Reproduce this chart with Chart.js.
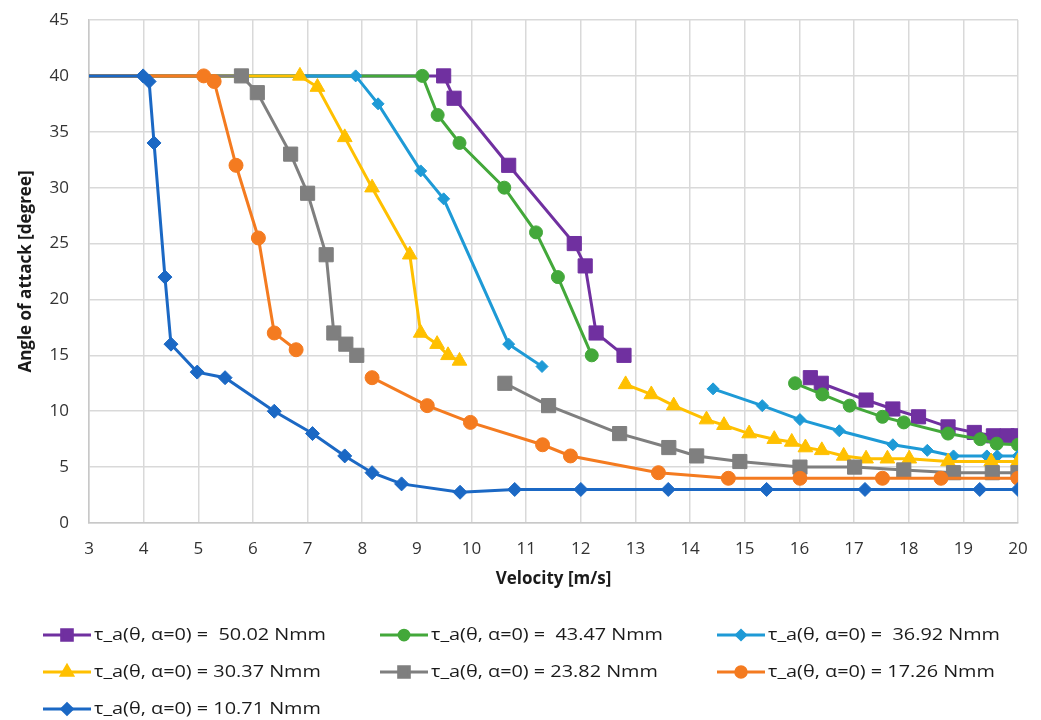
<!DOCTYPE html>
<html>
<head>
<meta charset="utf-8">
<script src="https://cdn.jsdelivr.net/npm/chart.js@4.4.1/dist/chart.umd.min.js"></script>
<style>
  html, body { margin: 0; padding: 0; background: #fff; }
  #wrap { width: 1041px; height: 720px; }
</style>
</head>
<body>
<div id="wrap"><canvas id="angleChart" width="1041" height="720"></canvas></div>
<script>
// velocity [m/s] / angle of attack [degree]; null splits a curve into two branches
const v50 = [3, 9.49, 9.68, 10.68, 11.88, 12.08, 12.28, 12.79, null, 16.2, 16.4, 17.22, 17.71, 18.18, 18.72, 19.2, 19.55, 19.8, 20];
const a50 = [40, 40, 38, 32, 25, 23, 17, 15, null, 13, 12.5, 11, 10.2, 9.5, 8.6, 8.1, 7.8, 7.8, 7.8];

const v43 = [3, 9.1, 9.38, 9.78, 10.6, 11.18, 11.58, 12.2, null, 15.92, 16.42, 16.92, 17.52, 17.91, 18.72, 19.31, 19.61, 20];
const a43 = [40, 40, 36.5, 34, 30, 26, 22, 15, null, 12.5, 11.5, 10.5, 9.5, 9, 8, 7.5, 7.1, 7];

const v36 = [3, 7.88, 8.29, 9.07, 9.49, 10.68, 11.29, null, 14.42, 15.32, 16.01, 16.73, 17.71, 18.34, 18.82, 19.43, 19.62, 20];
const a36 = [40, 40, 37.5, 31.5, 29, 16, 14, null, 12, 10.5, 9.25, 8.25, 7, 6.5, 6, 6, 6, 6];

const v30 = [3, 6.86, 7.18, 7.68, 8.18, 8.87, 9.07, 9.37, 9.57, 9.78, null, 12.82, 13.29, 13.7, 14.3, 14.62, 15.08, 15.54, 15.86, 16.11, 16.41, 16.81, 17.22, 17.61, 18.01, 18.72, 19.51, 20];
const a30 = [40, 40, 39, 34.5, 30, 24, 17, 16, 15, 14.5, null, 12.4, 11.5, 10.5, 9.25, 8.75, 8, 7.5, 7.25, 6.75, 6.5, 6, 5.75, 5.75, 5.75, 5.5, 5.5, 5.5];

const v23 = [3, 5.79, 6.08, 6.69, 7.0, 7.34, 7.48, 7.7, 7.9, null, 10.61, 11.41, 12.71, 13.61, 14.12, 14.91, 16.01, 17.01, 17.91, 18.82, 19.53, 20];
const a23 = [40, 40, 38.5, 33, 29.5, 24, 17, 16, 15, null, 12.5, 10.5, 8, 6.75, 6, 5.5, 5, 5, 4.75, 4.5, 4.5, 4.5];

const v17 = [3, 5.1, 5.29, 5.69, 6.1, 6.39, 6.79, null, 8.18, 9.19, 9.98, 11.3, 11.81, 13.42, 14.7, 16.01, 17.52, 18.59, 20];
const a17 = [40, 40, 39.5, 32, 25.5, 17, 15.5, null, 13, 10.5, 9, 7, 6, 4.5, 4, 4, 4, 4, 4];

const v10 = [3, 3.99, 4.1, 4.19, 4.39, 4.5, 4.98, 5.49, 6.39, 7.09, 7.68, 8.18, 8.72, 9.79, 10.79, 12, 13.6, 15.4, 17.2, 19.3, 20];
const a10 = [40, 40, 39.5, 34, 22, 16, 13.5, 13, 10, 8, 6, 4.5, 3.5, 2.75, 3, 3, 3, 3, 3, 3, 3];

const seriesLabels = [
  "τ_a(θ, α=0) =  50.02 Nmm",
  "τ_a(θ, α=0) =  43.47 Nmm",
  "τ_a(θ, α=0) =  36.92 Nmm",
  "τ_a(θ, α=0) = 30.37 Nmm",
  "τ_a(θ, α=0) = 23.82 Nmm",
  "τ_a(θ, α=0) = 17.26 Nmm",
  "τ_a(θ, α=0) = 10.71 Nmm"
];
const xTicks = [3, 20, 1];   // min, max, step
const yTicks = [0, 45, 5];

const styles = [
  { color: "#7030A0", shape: "rect", r: 10 },
  { color: "#43A83A", shape: "circle", r: 6.5 },
  { color: "#1E9AD6", shape: "rectRot", r: 6 },
  { color: "#FFC000", shape: "triangle", r: 8.5 },
  { color: "#7F7F7F", shape: "rect", r: 10 },
  { color: "#F47B20", shape: "circle", r: 7 },
  { color: "#1B68C4", shape: "rectRot", r: 7 }
];
const curves = [[v50, a50], [v43, a43], [v36, a36], [v30, a30], [v23, a23], [v17, a17], [v10, a10]];

function toPoints(vs, as) {
  return vs.map((x, i) => ({ x: x === null ? vs[i - 1] : x, y: as[i] }));
}

const datasets = curves.map(([vs, as], i) => ({
  label: seriesLabels[i],
  data: toPoints(vs, as),
  showLine: true,
  borderColor: styles[i].color,
  backgroundColor: styles[i].color,
  borderWidth: 3,
  pointStyle: styles[i].shape,
  pointRadius: ctx => ctx.dataIndex === 0 ? 0 : styles[i].r,
  pointBorderWidth: 1,
  pointBorderColor: styles[i].color,
  pointBackgroundColor: styles[i].color,
  // later series are painted over earlier ones
  order: curves.length - i
}));

const FONT = "'Open Sans', 'DejaVu Sans', sans-serif";

// axis titles and the three-column legend under the plot
const extras = {
  id: "extras",
  afterDraw(chart) {
    const ctx = chart.ctx;
    const area = chart.chartArea;
    ctx.save();
    ctx.fillStyle = "#1a1a1a";
    ctx.font = "bold 17px " + FONT;
    ctx.textAlign = "center";
    ctx.textBaseline = "middle";
    ctx.fillText("Velocity [m/s]", (area.left + area.right) / 2, 579);
    ctx.save();
    ctx.translate(26, (area.top + area.bottom) / 2);
    ctx.rotate(-Math.PI / 2);
    ctx.fillText("Angle of attack [degree]", 0, 0);
    ctx.restore();

    const cols = [43, 380, 717];
    const rows = [635, 672, 709];
    ctx.font = "16px " + FONT;
    ctx.textAlign = "left";
    const w0 = ctx.measureText(seriesLabels[0]).width;
    const sx = 232 / w0;
    seriesLabels.forEach((txt, i) => {
      const x = cols[i % 3];
      const y = rows[Math.floor(i / 3)];
      const st = styles[i];
      ctx.strokeStyle = st.color;
      ctx.lineWidth = 3;
      ctx.beginPath();
      ctx.moveTo(x, y);
      ctx.lineTo(x + 48, y);
      ctx.stroke();
      ctx.fillStyle = st.color;
      Chart.helpers.drawPoint(ctx, { pointStyle: st.shape, radius: st.r * 0.75, borderWidth: 1, rotation: 0 }, x + 24, y);
      ctx.save();
      ctx.translate(x + 51, y);
      ctx.scale(sx, 1);
      ctx.fillStyle = "#1a1a1a";
      ctx.fillText(txt, 0, 0);
      ctx.restore();
    });
    ctx.restore();
  }
};

new Chart(document.getElementById("angleChart"), {
  type: "scatter",
  data: { datasets },
  plugins: [extras],
  options: {
    responsive: false,
    animation: false,
    devicePixelRatio: 1,
    layout: { padding: { left: 0, top: 20, right: 23, bottom: 117 } },
    plugins: { legend: { display: false }, tooltip: { enabled: false } },
    elements: { line: { tension: 0 } },
    scales: {
      x: {
        type: "linear",
        min: xTicks[0], max: xTicks[1],
        ticks: { stepSize: xTicks[2], padding: 16, color: "#333333", font: { family: FONT, size: 17 } },
        grid: { color: "#d9d9d9", lineWidth: 1.5, drawTicks: false },
        border: { color: "#c8c8c8", width: 1.5 },
        afterFit(scale) { scale.height = 80; scale.paddingLeft = 0; scale.paddingRight = 0; }
      },
      y: {
        min: yTicks[0], max: yTicks[1],
        ticks: { stepSize: yTicks[2], padding: 20, color: "#333333", font: { family: FONT, size: 17 } },
        grid: { color: "#d9d9d9", lineWidth: 1.5, drawTicks: false },
        border: { color: "#c8c8c8", width: 1.5 },
        afterFit(scale) { scale.width = 89; scale.paddingTop = 0; scale.paddingBottom = 0; }
      }
    }
  }
});
</script>
</body>
</html>
